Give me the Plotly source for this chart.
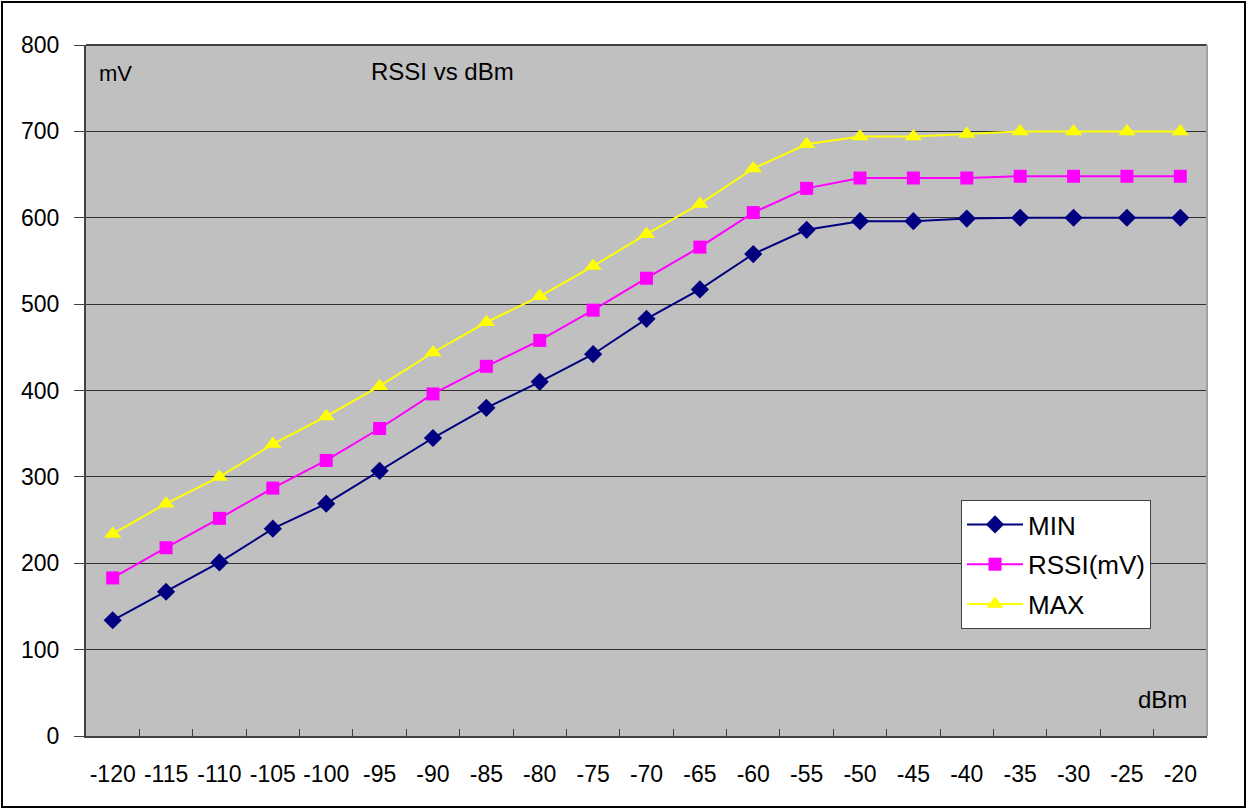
import plotly.graph_objects as go

dbm = ["-120", "-115", "-110", "-105", "-100", "-95", "-90", "-85", "-80", "-75",
       "-70", "-65", "-60", "-55", "-50", "-45", "-40", "-35", "-30", "-25", "-20"]
min_mv = [134, 167, 201, 240, 269, 307, 345, 380, 410, 442,
          483, 517, 558, 586, 596, 596, 599, 600, 600, 600, 600]
rssi_mv = [183, 218, 252, 287, 319, 356, 396, 428, 458, 493,
           530, 566, 606, 634, 646, 646, 646, 648, 648, 648, 648]
max_mv = [234, 269, 300, 338, 370, 405, 444, 479, 509, 544,
          581, 616, 657, 685, 694, 694, 697, 700, 700, 700, 700]
y_ticks = [0, 100, 200, 300, 400, 500, 600, 700, 800]

FONT = "Liberation Sans, Arial, sans-serif"

fig = go.Figure()
fig.add_trace(go.Scatter(x=dbm, y=min_mv, name="MIN", mode="lines+markers", legendgroup="a",
                         line=dict(color="#000080", width=2),
                         marker=dict(symbol="diamond", size=14, color="#000080")))
fig.add_trace(go.Scatter(x=dbm, y=rssi_mv, name="RSSI(mV)", mode="lines+markers", legendgroup="b",
                         line=dict(color="#FF00FF", width=2),
                         marker=dict(symbol="square", size=13, color="#FF00FF")))
fig.add_trace(go.Scatter(x=dbm, y=max_mv, name="MAX", mode="lines+markers", legendgroup="c",
                         line=dict(color="#FFFF00", width=2),
                         marker=dict(symbol="triangle-up", size=15, color="#FFFF00")))

L, R, T, B = 86, 41, 45, 74
W, H = 1248, 810
pw, ph = W - L - R, H - T - B

def px(x):
    return (x - L) / pw

def py(y):
    return (H - B - y) / ph

fig.update_layout(
    width=W, height=H,
    margin=dict(l=L, r=R, t=T, b=B, autoexpand=False),
    paper_bgcolor="white",
    plot_bgcolor="#C0C0C0",
    font=dict(family=FONT, size=23, color="black"),
    showlegend=True,
    legend=dict(x=px(961), y=py(500), xanchor="left", yanchor="top",
                bgcolor="white", bordercolor="#404040", borderwidth=1,
                font=dict(family=FONT, size=26, color="black"),
                tracegroupgap=3, itemwidth=56),
    xaxis=dict(type="category", range=[-0.5, 20.5], tickson="boundaries",
               ticks="inside", ticklen=7, tickcolor="#404040", tickwidth=1,
               showline=True, linecolor="#404040", linewidth=2,
               showgrid=False, zeroline=False, ticklabelstandoff=16,
               tickangle=0, automargin=False,
               tickfont=dict(family=FONT, size=23, color="black")),
    yaxis=dict(range=[0, 800], tickvals=y_ticks, ticks="outside", ticklen=10,
               tickcolor="#404040", showline=True, linecolor="#404040", linewidth=2,
               showgrid=True, gridcolor="#303030", gridwidth=1, zeroline=False,
               ticklabelstandoff=10, automargin=False,
               tickfont=dict(family=FONT, size=23, color="black")),
    shapes=[
        dict(type="rect", xref="paper", yref="paper",
             x0=px(2), x1=px(1245), y0=py(807), y1=py(2),
             line=dict(color="black", width=2), fillcolor="rgba(0,0,0,0)", layer="below"),
        dict(type="line", xref="paper", yref="paper", x0=0, x1=1, y0=1, y1=1,
             line=dict(color="#404040", width=2)),
        dict(type="line", xref="paper", yref="paper", x0=1, x1=1, y0=0, y1=1,
             line=dict(color="#A0A0A0", width=2)),
    ],
    annotations=[
        dict(text="mV", xref="paper", yref="paper", x=px(97), y=py(73),
             xanchor="left", yanchor="middle", showarrow=False,
             font=dict(family=FONT, size=22, color="black")),
        dict(text="RSSI vs dBm", xref="paper", yref="paper", x=px(369), y=py(71),
             xanchor="left", yanchor="middle", showarrow=False,
             font=dict(family=FONT, size=24, color="black")),
        dict(text="dBm", xref="paper", yref="paper", x=px(1189), y=py(699),
             xanchor="right", yanchor="middle", showarrow=False,
             font=dict(family=FONT, size=24, color="black")),
    ],
)

fig.write_html("out.html", config={"displayModeBar": False},
               post_script="document.body.style.margin='0';document.body.style.overflow='hidden';")
